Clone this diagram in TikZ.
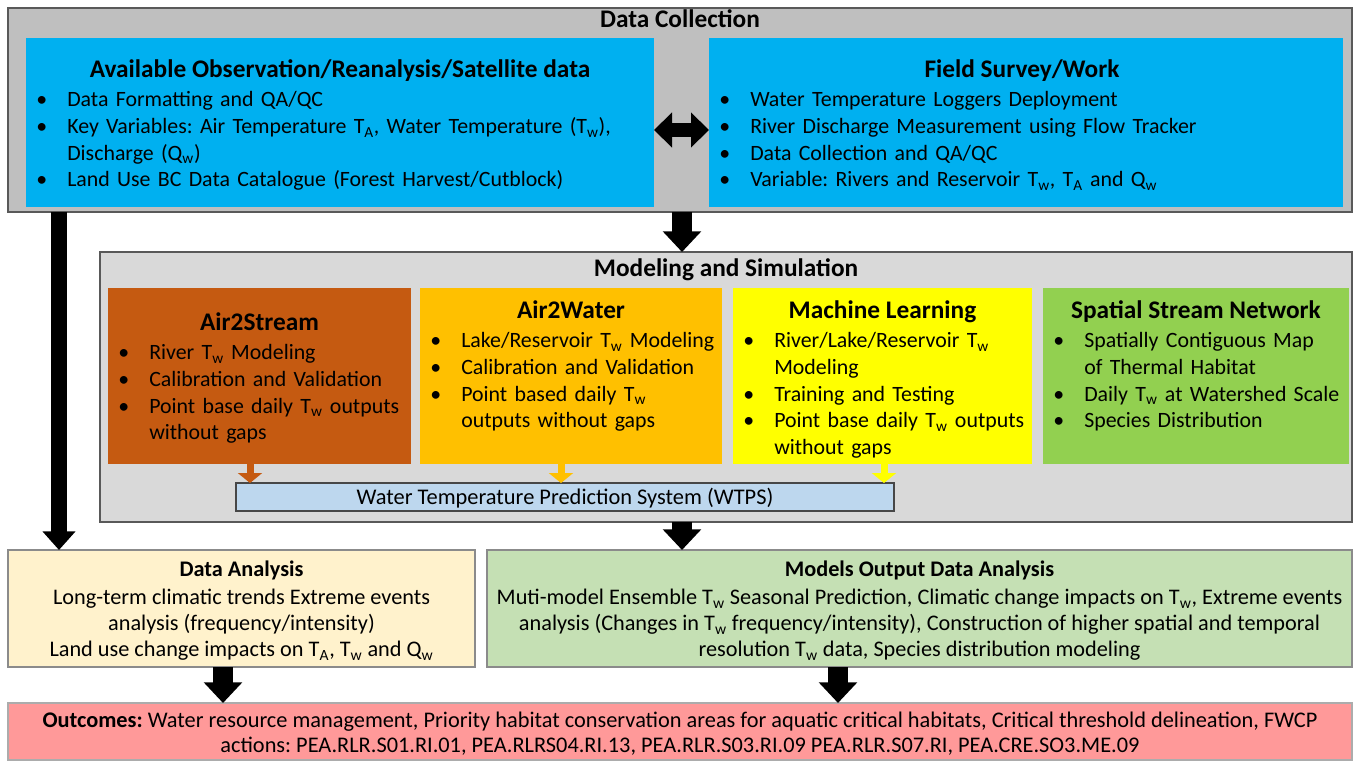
\documentclass[tikz,border=0pt]{standalone}
\usepackage{fontspec}
\setmainfont{Carlito}
\usetikzlibrary{arrows.meta}
\frenchspacing
\definecolor{dcgray}{HTML}{BFBFBF}
\definecolor{msgray}{HTML}{D9D9D9}
\definecolor{bordc}{HTML}{595959}
\definecolor{skyb}{HTML}{00B0F0}
\definecolor{rustc}{HTML}{C55A11}
\definecolor{amberc}{HTML}{FFC000}
\definecolor{yellc}{HTML}{FFFF00}
\definecolor{lgreenc}{HTML}{92D050}
\definecolor{paleblue}{HTML}{BDD7EE}
\definecolor{creamc}{HTML}{FFF2CC}
\definecolor{sagec}{HTML}{C5E0B4}
\definecolor{salmonc}{HTML}{FF9999}
\newcommand{\Tw}{T\textsubscript{w}}
\newcommand{\TA}{T\textsubscript{A}}
\newcommand{\Qw}{Q\textsubscript{w}}
\newcommand{\bitem}[1]{\par\noindent\hangindent=30.75pt\hangafter=1\hbox to 30.75pt{\hspace{7.5pt}\textbullet\hfil}#1\par}
\begin{document}
\begin{tikzpicture}[x=0.75pt,y=-0.75pt,
  box/.style={draw=bordc, line width=0.9pt, anchor=north west, inner sep=0pt, outer sep=0pt},
  fbox/.style={anchor=north west, inner sep=0pt, outer sep=0pt},
  ttl/.style={font=\fontsize{19}{22}\selectfont\bfseries, anchor=base, inner sep=0pt},
  hdr/.style={font=\fontsize{19}{22}\selectfont\bfseries, anchor=base, inner sep=0pt},
  shdr/.style={font=\fontsize{16.7}{20}\selectfont\bfseries, anchor=base, inner sep=0pt},
  bdy/.style={anchor=north west, inner sep=0pt, align=left, font=\fontsize{16.4}{20}\selectfont},
  cbdy/.style={anchor=north, inner sep=0pt, align=center, font=\fontsize{16.7}{19.5}\selectfont},
  barrow/.style={line width=15pt, -{Triangle[width=28pt,length=15.5pt]}},
  larrow/.style={line width=12pt, -{Triangle[width=24pt,length=14pt]}},
  darrow/.style={line width=10.5pt, {Triangle[width=25.5pt,length=13.5pt]}-{Triangle[width=25.5pt,length=13.5pt]}},
  sarrow/.style={line width=5.25pt, -{Triangle[width=18pt,length=7.5pt]}}]
\fill[white] (0,0) rectangle (1354,761);
\useasboundingbox (0,0) rectangle (1354,761);

% Data collection
\node[box, fill=dcgray, minimum width=1008pt, minimum height=153pt] (dc) at (8,8) {};
\node[hdr] (dct) at (680,27) {Data Collection};
\node[fbox, fill=skyb, minimum width=471pt, minimum height=126.75pt] (obs) at (26,38) {};
\node[fbox, fill=skyb, minimum width=475.5pt, minimum height=126.75pt] (field) at (709,38) {};
\node[ttl] (obst) at (340,77) {Available Observation/Reanalysis/Satellite data};
\node[bdy, text width=465pt] (obsb) at (26,80) {%
\bitem{Data Formatting and QA/QC}%
\bitem{Key Variables: Air Temperature \TA, Water Temperature (\Tw),\newline Discharge (\Qw)}%
\bitem{Land Use BC Data Catalogue (Forest Harvest/Cutblock)}};
\node[ttl] (fieldt) at (1022,77) {Field Survey/Work};
\node[bdy, text width=470pt] (fieldb) at (709,80) {%
\bitem{Water Temperature Loggers Deployment}%
\bitem{River Discharge Measurement using Flow Tracker}%
\bitem{Data Collection and QA/QC}%
\bitem{Variable: Rivers and Reservoir \Tw, \TA{} and \Qw}};

% Modeling
\node[box, fill=msgray, minimum width=939pt, minimum height=202.5pt] (ms) at (100,252) {};
\node[hdr] (mst) at (726,276) {Modeling and Simulation};
\node[fbox, fill=rustc, minimum width=227.25pt, minimum height=132pt] (a2s) at (108,288) {};
\node[fbox, fill=amberc, minimum width=226.5pt, minimum height=132pt] (a2w) at (420,288) {};
\node[fbox, fill=yellc, minimum width=224.25pt, minimum height=132pt] (ml) at (733,288) {};
\node[fbox, fill=lgreenc, minimum width=229.5pt, minimum height=132pt] (ssn) at (1043,288) {};

\node[ttl] (a2st) at (259.5,330) {Air2Stream};
\node[bdy, text width=225pt] (a2sb) at (108,333) {%
\bitem{River \Tw{} Modeling}%
\bitem{Calibration and Validation}%
\bitem{Point base daily \Tw{} outputs\newline without gaps}};
\node[ttl] (a2wt) at (571,318) {Air2Water};
\node[bdy, text width=225pt] (a2wb) at (420,321) {%
\bitem{Lake/Reservoir \Tw{} Modeling}%
\bitem{Calibration and Validation}%
\bitem{Point based daily \Tw\newline outputs without gaps}};
\node[ttl] (mlt) at (882.5,318) {Machine Learning};
\node[bdy, text width=222pt] (mlb) at (733,321) {%
\bitem{River/Lake/Reservoir \Tw\newline Modeling}%
\bitem{Training and Testing}%
\bitem{Point base daily \Tw{} outputs\newline without gaps}};
\node[ttl] (ssnt) at (1196,318) {Spatial Stream Network};
\node[bdy, text width=228pt] (ssnb) at (1043,321) {%
\bitem{Spatially Contiguous Map\newline of Thermal Habitat}%
\bitem{Daily \Tw{} at Watershed Scale}%
\bitem{Species Distribution}};

\node[box, draw=bordc!80!black, line width=1.1pt, fill=paleblue, minimum width=493.5pt, minimum height=21pt] (wtps) at (236,483) {};
\node[anchor=center, inner sep=0pt, font=\fontsize{16.8}{18}\selectfont] (wtpst) at (565,498) {Water Temperature Prediction System (WTPS)};

% Analysis
\node[box, draw=bordc!70, fill=creamc, minimum width=350.25pt, minimum height=87.75pt] (da) at (8,550) {};
\node[box, draw=bordc!70, fill=sagec, minimum width=648.75pt, minimum height=87.75pt] (mo) at (487,550) {};
\node[shdr] (dat) at (241.5,576) {Data Analysis};
\node[cbdy] (dab) at (241.5,589) {Long-term climatic trends Extreme events\\ analysis (frequency/intensity)\\ Land use change impacts on \TA, \Tw{} and \Qw};
\node[shdr] (mot) at (919.5,576) {Models Output Data Analysis};
\node[cbdy] (mob) at (919.5,589) {Muti-model Ensemble \Tw{} Seasonal Prediction, Climatic change impacts on \Tw, Extreme events\\ analysis (Changes in \Tw{} frequency/intensity), Construction of higher spatial and temporal\\ resolution \Tw{} data, Species distribution modeling};

% Outcomes
\node[box, draw=bordc!50, fill=salmonc, minimum width=1008pt, minimum height=42.75pt] (out) at (8,703) {};
\node[cbdy, font=\fontsize{16.75}{18.75}\selectfont] (outt) at (680,712) {\textbf{Outcomes:} Water resource management, Priority habitat conservation areas for aquatic critical habitats, Critical threshold delineation, FWCP\\ actions: PEA.RLR.S01.RI.01, PEA.RLRS04.RI.13, PEA.RLR.S03.RI.09 PEA.RLR.S07.RI, PEA.CRE.SO3.ME.09};

% Connectors
\draw[darrow] (obs.east |- 0,130) -- (field.west |- 0,130);
\draw[barrow] (dc.south -| 682,0) -- (ms.north -| 682,0);
\draw[larrow] (dc.south -| 59,0) -- (da.north -| 59,0);
\draw[barrow] (ms.south -| 682,0) -- (mo.north -| 682,0);
\draw[barrow] (da.south -| 223,0) -- (out.north -| 223,0);
\draw[barrow] (mo.south -| 838,0) -- (out.north -| 838,0);
\draw[sarrow, rustc] (a2s.south -| 250,0) -- (wtps.north -| 250,0);
\draw[sarrow, amberc] (a2w.south -| 561,0) -- (wtps.north -| 561,0);
\draw[sarrow, yellc] (ml.south -| 884,0) -- (wtps.north -| 884,0);
\end{tikzpicture}
\end{document}
